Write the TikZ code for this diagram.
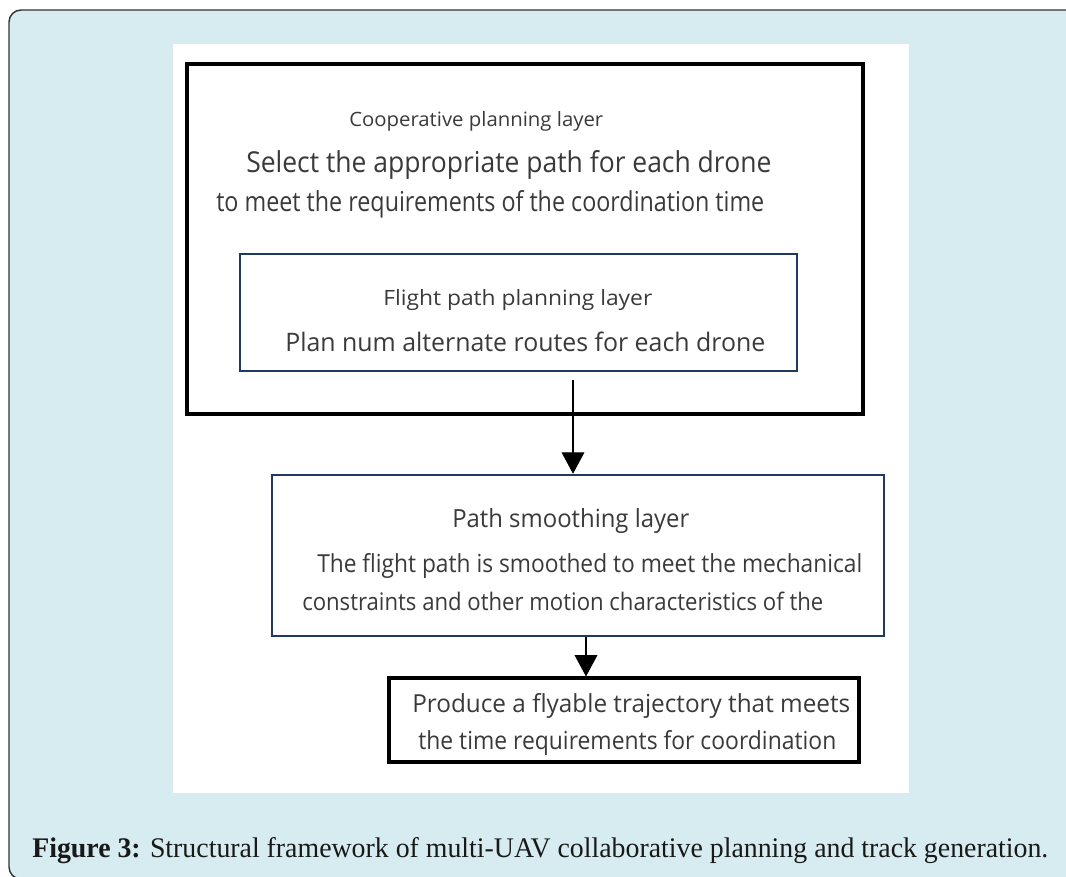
\documentclass[tikz,border=0pt]{standalone}
\usepackage{fontspec}
\setmainfont{Open Sans}
\newfontfamily\capfont{Liberation Serif}
\usetikzlibrary{arrows.meta}
\definecolor{panelblue}{HTML}{D7ECF1}
\definecolor{navy}{HTML}{1F3864}
\definecolor{ink}{HTML}{3A3A3A}
% set a line of text to a given width and ascender height in pixels (1px = 0.75pt)
\newcommand\fitpx[3]{\resizebox{\dimexpr #1pt*3/4\relax}{\dimexpr #2pt*3/4\relax}{#3}}
\begin{document}
\begin{tikzpicture}[x=0.75pt,y=-0.75pt,
  blackbox/.style={draw=black,line width=2.3pt,inner sep=0pt},
  navybox/.style={draw=navy,line width=1.9pt,inner sep=0pt},
  txt/.style={inner sep=0pt,anchor=base west,text=ink},
  flow/.style={draw=black,line width=0.8pt,-{Triangle[width=17pt,length=16pt]}}]
\useasboundingbox (0,0) rectangle (1066,876);
% page frame
\begin{scope}
  \clip (0,0) rectangle (1066,876);
  \draw[fill=panelblue,draw=black!80,line width=1.1pt,rounded corners=9pt]
    (9,10) rectangle (1100,879);
\end{scope}
\fill[white] (173,44) rectangle (909,793);

% boxes
\node[blackbox,minimum width=507pt,minimum height=262.5pt] (coop) at (525,239) {};
\node[navybox,minimum width=417.75pt,minimum height=87.75pt] (fpl) at (518.5,312.5) {};
\node[navybox,minimum width=459pt,minimum height=120.75pt] (ps) at (578,555.5) {};
\node[blackbox,minimum width=352.5pt,minimum height=63pt] (fin) at (624,720) {};

% texts
\node[txt] (t1) at (349,126) {\fitpx{254}{15}{Cooperative planning layer}};
\node[txt] (t2) at (246,172) {\fitpx{525}{22}{Select the appropriate path for each drone}};
\node[txt] (t3) at (216,211) {\fitpx{548}{21}{to meet the requirements of the coordination time}};
\node[txt] (t4) at (383,305) {\fitpx{269}{16}{Flight path planning layer}};
\node[txt] (t5) at (285,351) {\fitpx{480}{19.5}{Plan num alternate routes for each drone}};
\node[txt] (t6) at (452,527) {\fitpx{237}{19}{Path smoothing layer}};
\node[txt] (t7) at (317,572) {\fitpx{545}{19}{The flight path is smoothed to meet the mechanical}};
\node[txt] (t8) at (302,610) {\fitpx{521}{18.5}{constraints and other motion characteristics of the}};
\node[txt] (t9) at (412,712) {\fitpx{438}{19}{Produce a flyable trajectory that meets}};
\node[txt] (t10) at (418,749) {\fitpx{418}{19}{the time requirements for coordination}};

% connectors
\coordinate (a1) at (573,380);
\coordinate (a2) at (586,0);
\draw[flow] (a1) -- (a1 |- ps.north);
\draw[flow] (ps.south -| a2) -- (fin.north -| a2);

% caption
\node[inner sep=0pt,anchor=base west,text=black!90] (cap) at (32,857)
  {\capfont\resizebox{\dimexpr 1016pt*3/4\relax}{\dimexpr 20pt*3/4\relax}{\textbf{Figure 3:} Structural framework of multi-UAV collaborative planning and track generation.}};
\end{tikzpicture}
\end{document}
